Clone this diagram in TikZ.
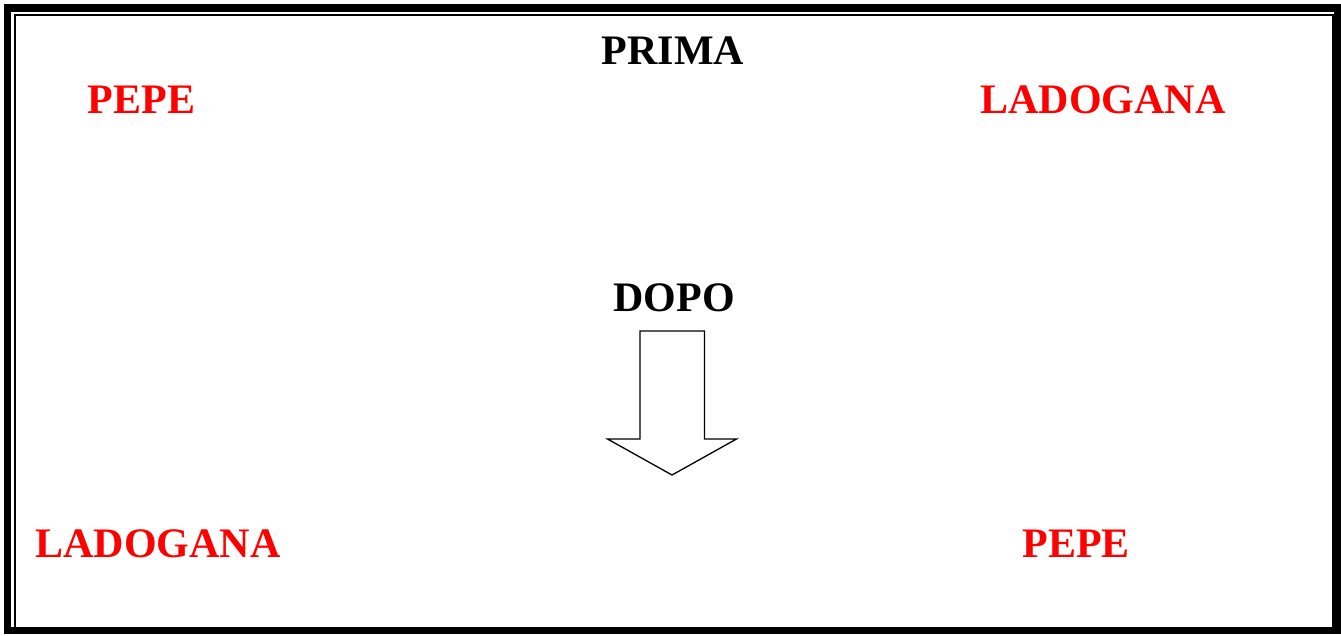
\documentclass[tikz,border=0pt]{standalone}
\usepackage{fontspec}
\setmainfont{Liberation Serif}
\definecolor{lblred}{RGB}{255,0,0}
\begin{document}
\begin{tikzpicture}[x=1pt,y=-1pt,
  lbl/.style={inner sep=0pt,anchor=base,font=\fontsize{42}{46}\selectfont\bfseries},
  redlbl/.style={lbl,text=lblred},
  blacklbl/.style={lbl,text=black},
  arrowshape/.style={draw=black,line width=1.3pt,fill=white,line join=miter}]
\useasboundingbox (0,0) rectangle (1341,635);
\fill[white] (0,0) rectangle (1341,635);
% borders
\draw[line width=7.5pt] (7.5,8) rectangle (1337.5,630.5);
\draw[line width=2pt] (14.5,14.5) rectangle (1333,627.5);
% labels
\node[blacklbl] (prima) at (673,64.3) {PRIMA};
\node[redlbl] (pepe1) at (141.5,113) {PEPE};
\node[redlbl] (lado1) at (1103,113) {LADOGANA};
\node[blacklbl] (dopo) at (674,311) {DOPO};
\node[redlbl] (lado2) at (158,557) {LADOGANA};
\node[redlbl] (pepe2) at (1076,557) {PEPE};
% block arrow
\draw[arrowshape] (640,331) -- (704.5,331) -- (704.5,439) -- (736.5,439) -- (672,475) -- (607.5,439) -- (640,439) -- cycle;
\end{tikzpicture}
\end{document}
